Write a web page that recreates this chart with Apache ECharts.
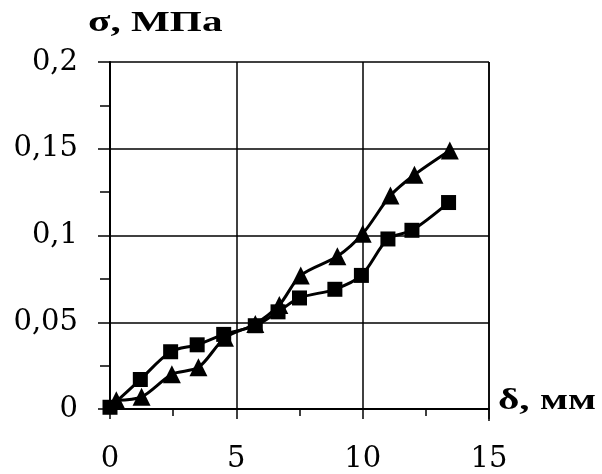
<!DOCTYPE html>
<html><head><meta charset="utf-8">
<script src="https://cdn.jsdelivr.net/npm/echarts@6/dist/echarts.min.js"></script>
<style>html,body{margin:0;padding:0;background:#fff}#c{width:602px;height:474px}</style>
</head><body><div id="c"></div>
<script>
const xTicks = [0, 5, 10, 15];
const yTicks = [0, 0.05, 0.1, 0.15, 0.2];
const squareX = [0, 1.2, 2.4, 3.45, 4.5, 5.75, 6.65, 7.5, 8.9, 9.95, 11.0, 11.95, 13.4];
const squareY = [0.001, 0.017, 0.033, 0.037, 0.043, 0.048, 0.056, 0.064, 0.069, 0.077, 0.098, 0.103, 0.119];
const triX = [0.25, 1.25, 2.45, 3.5, 4.55, 5.75, 6.7, 7.55, 9.0, 10.0, 11.1, 12.05, 13.45];
const triY = [0.005, 0.007, 0.02, 0.024, 0.041, 0.049, 0.06, 0.077, 0.088, 0.101, 0.123, 0.135, 0.149];

const pairs = (xs, ys) => xs.map((x, i) => [x, ys[i]]);
const fmt = v => String(v).replace('.', ',');
const labelFont = '"DejaVu Serif", serif';
const titleFont = '"Liberation Serif", "Times New Roman", serif';

const chart = echarts.init(document.getElementById('c'));
chart.setOption({
  backgroundColor: '#fff',
  animation: false,
  grid: { left: 110, right: 113, top: 62, bottom: 63 },
  xAxis: {
    type: 'value', min: xTicks[0], max: xTicks[xTicks.length - 1], interval: 5,
    axisLine: { lineStyle: { color: '#000', width: 2 } },
    axisTick: { show: true, length: 10, lineStyle: { color: '#000', width: 1.5 } },
    minorTick: { show: true, splitNumber: 2, length: 7, lineStyle: { color: '#000', width: 1.5 } },
    splitLine: { show: true, lineStyle: { color: '#000', width: 1.5 } },
    axisLabel: { margin: 36, fontFamily: labelFont, fontSize: 29, color: '#000', formatter: fmt }
  },
  yAxis: {
    type: 'value', min: yTicks[0], max: yTicks[yTicks.length - 1], interval: 0.05,
    axisLine: { show: true, lineStyle: { color: '#000', width: 2 } },
    axisTick: { show: true, length: 12, lineStyle: { color: '#000', width: 1.5 } },
    minorTick: { show: true, splitNumber: 2, length: 10, lineStyle: { color: '#000', width: 1.5 } },
    splitLine: { show: true, lineStyle: { color: '#000', width: 1.5 } },
    axisLabel: { margin: 32, fontFamily: labelFont, fontSize: 29, color: '#000', formatter: fmt }
  },
  graphic: [
    { type: 'line', shape: { x1: 489, y1: 62, x2: 489, y2: 421 }, style: { stroke: '#000', lineWidth: 1.5 } },
    { type: 'text', x: 88, y: 9, scaleX: 1.42,
      style: { x: 0, y: 0, text: 'σ, МПа', fontFamily: titleFont, fontSize: 29, fontWeight: 'bold', fill: '#000', textVerticalAlign: 'top', textAlign: 'left' } },
    { type: 'text', x: 498, y: 387, scaleX: 1.42,
      style: { x: 0, y: 0, text: 'δ, мм', fontFamily: titleFont, fontSize: 29, fontWeight: 'bold', fill: '#000', textVerticalAlign: 'top', textAlign: 'left' } }
  ],
  series: [
    {
      type: 'line', data: pairs(squareX, squareY), smooth: 0.3,
      symbol: 'rect', symbolSize: 15,
      lineStyle: { color: '#000', width: 3 }, itemStyle: { color: '#000' }
    },
    {
      type: 'line', data: pairs(triX, triY), smooth: 0.3,
      symbol: 'triangle', symbolSize: 18,
      lineStyle: { color: '#000', width: 3 }, itemStyle: { color: '#000' }
    }
  ]
});
</script></body></html>
